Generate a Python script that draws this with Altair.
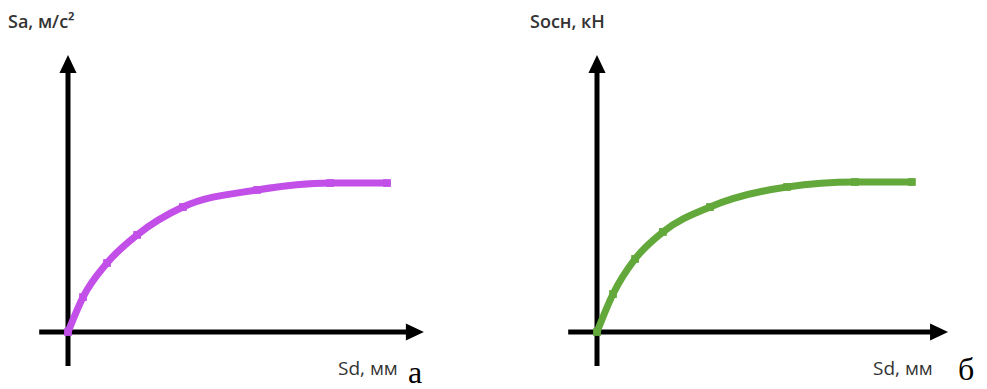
import altair as alt
import pandas as pd

# ---- data ----
sd_a = [0, 0.47, 1.22, 2.16, 3.59, 5.91, 8.19, 9.97]
sa_a = [0, 2.33, 4.60, 6.47, 8.33, 9.47, 9.93, 9.93]

sd_b = [0, 0.50, 1.19, 2.06, 3.53, 5.94, 8.06, 9.84]
sosn_b = [0, 2.53, 4.87, 6.67, 8.33, 9.67, 10.0, 10.0]

title_a = "Sa, м/с²"
title_b = "Sосн, кН"
xlabel = "Sd, мм"
tag_a = "а"
tag_b = "б"

# axis extents in data units
X_AXIS_MIN = -0.9
X_ARROW_A = 10.84
X_ARROW_B = 10.69
Y_AXIS_MIN = -2.27
Y_ARROW = 17.87

ARROW_RIGHT = "M-1,-0.95L1,0L-1,0.95Z"
ARROW_UP = "M-0.95,1L0,-1L0.95,1Z"

H = 389
y_scale = alt.Scale(domain=[-57 / 15, 332 / 15], nice=False, zero=False)


def panel(xs, ys, color, width, origin_px, x_arrow, title, tx, lab_x, tag, tag_x, tag_y):
    x_scale = alt.Scale(domain=[-origin_px / 32, (width - origin_px) / 32], nice=False, zero=False)
    df = pd.DataFrame({"x": xs, "y": ys})

    def X(f):
        return alt.X(f, type="quantitative", scale=x_scale, axis=None)

    def Y(f):
        return alt.Y(f, type="quantitative", scale=y_scale, axis=None)

    axes_df = pd.DataFrame({"x1": [X_AXIS_MIN, 0], "x2": [x_arrow, 0],
                            "y1": [0, Y_AXIS_MIN], "y2": [0, Y_ARROW]})
    axes = alt.Chart(axes_df).mark_rule(color="black", strokeWidth=5).encode(
        x=X("x1"), x2="x2", y=Y("y1"), y2="y2")
    arr_r = alt.Chart(pd.DataFrame({"x": [x_arrow], "y": [0]})).mark_point(
        shape=ARROW_RIGHT, filled=True, size=324, color="black", opacity=1).encode(x=X("x"), y=Y("y"))
    arr_u = alt.Chart(pd.DataFrame({"x": [0], "y": [Y_ARROW]})).mark_point(
        shape=ARROW_UP, filled=True, size=324, color="black", opacity=1).encode(x=X("x"), y=Y("y"))

    line = alt.Chart(df).mark_line(color=color, strokeWidth=7, interpolate="monotone",
                                   strokeCap="round").encode(x=X("x"), y=Y("y"))
    pts = alt.Chart(df).mark_point(shape="square", filled=True, size=60, color=color,
                                   opacity=1).encode(x=X("x"), y=Y("y"))

    txt = pd.DataFrame({"t": [0]})
    t_title = alt.Chart(txt).mark_text(text=title, align="left", baseline="alphabetic",
                                       font="Open Sans", fontSize=18, fontWeight=600,
                                       color="#333").encode(x=alt.value(tx), y=alt.value(28))
    t_xl = alt.Chart(txt).mark_text(text=xlabel, align="left", baseline="alphabetic",
                                    font="Open Sans", fontSize=19, fontWeight=500,
                                    color="#333").encode(x=alt.value(lab_x), y=alt.value(375))
    t_tag = alt.Chart(txt).mark_text(text=tag, align="left", baseline="alphabetic",
                                     font="Liberation Serif", fontSize=32,
                                     color="black").encode(x=alt.value(tag_x), y=alt.value(tag_y))
    return alt.layer(axes, line, pts, arr_r, arr_u, t_title, t_xl, t_tag).properties(
        width=width, height=H)


pa = panel(sd_a, sa_a, "#c24fe8", 500, 68, X_ARROW_A, title_a, 8, 338, tag_a, 408, 383)
pb = panel(sd_b, sosn_b, "#62a83a", 487, 97, X_ARROW_B, title_b, 30, 373, tag_b, 458, 380)

chart = alt.hconcat(pa, pb, spacing=0).properties(padding=0, background="white").configure_view(
    stroke=None)

chart.save("out.html", embed_options={"renderer": "svg", "actions": False})
